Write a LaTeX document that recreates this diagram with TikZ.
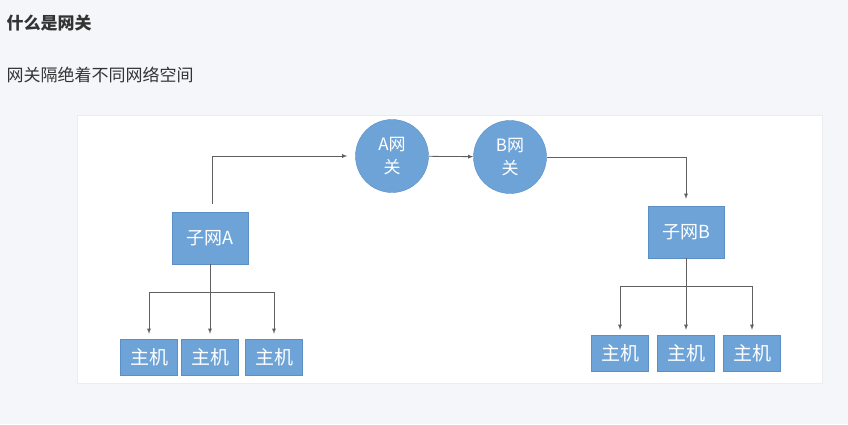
\documentclass[tikz,border=0pt]{standalone}
\usepackage{fontspec}
\usepackage{xcolor}
\usepackage{tikz}
\usetikzlibrary{shapes.geometric, arrows}
\newfontfamily\cjk{Noto Sans CJK SC}
\definecolor{pagebg}{HTML}{F5F6FA}
\definecolor{boxblue}{HTML}{6EA3D8}
\definecolor{boxedge}{HTML}{5B8FC6}
\definecolor{inkgray}{HTML}{333333}
\tikzstyle{gateway} = [circle, minimum size=73pt, inner sep=0pt, align=center, fill=boxblue, draw=boxedge, text=white, font=\cjk\fontsize{17}{23}\selectfont]
\tikzstyle{subnet} = [rectangle, minimum width=76pt, minimum height=52pt, inner sep=0pt, text centered, fill=boxblue, draw=boxedge, text=white, font=\cjk\fontsize{18}{20}\selectfont]
\tikzstyle{host} = [rectangle, minimum width=57pt, minimum height=36pt, inner sep=0pt, text centered, fill=boxblue, draw=boxedge, text=white, font=\cjk\fontsize{19}{21}\selectfont]
\tikzstyle{arrow} = [gray!75!black, line width=0.8pt, ->, >=latex]
\tikzstyle{line} = [gray!75!black, line width=0.8pt]
\begin{document}
\begin{tikzpicture}[x=1pt, y=-1pt]
	
	\fill [pagebg] (0,0) rectangle (848,424);
	\useasboundingbox (0,0) rectangle (848,424);
	\draw [fill=white, draw=gray!15] (77,115) rectangle (822,383);
	
	\node (title) [anchor=west, text=inkgray, font=\cjk\bfseries\fontsize{17}{19}\selectfont] at (3,23) {什么是网关};
	\node (intro) [anchor=west, text=inkgray, font=\cjk\fontsize{17}{19}\selectfont] at (3,75) {网关隔绝着不同网络空间};
	
	\node (ga) [gateway] at (392,156) {A网\\关};
	\node (gb) [gateway] at (510,157) {B网\\关};
	
	\node (sa) [subnet] at (210,238) {子网A};
	\node (sb) [subnet] at (686,232) {子网B};
	
	\draw [arrow, shorten >=8pt] ([xshift=2pt]sa.north) ++(0,-8) |- (ga.west);
	\draw [arrow] (ga) -- (gb);
	\draw [arrow, shorten >=7pt] (gb.east) -| (sb.north);
	
	\node (a1) [host] at (149,357) {主机};
	\node (a2) [host] at (210,357) {主机};
	\node (a3) [host] at (274,357) {主机};
	
	\node (b1) [host] at (620,353) {主机};
	\node (b2) [host] at (686,353) {主机};
	\node (b3) [host] at (752,353) {主机};
	
	\coordinate (ja) at (210,292);
	\coordinate (jb) at (686,286);
	
	\draw [line] (sa.south) -- (ja);
	\draw [line] (sb.south) -- (jb);
	\foreach \h in {a1,a2,a3}
		\draw [arrow, shorten >=5pt] (ja) -| (\h.north);
	\foreach \h in {b1,b2,b3}
		\draw [arrow, shorten >=5pt] (jb) -| (\h.north);
	
\end{tikzpicture}
\end{document}
